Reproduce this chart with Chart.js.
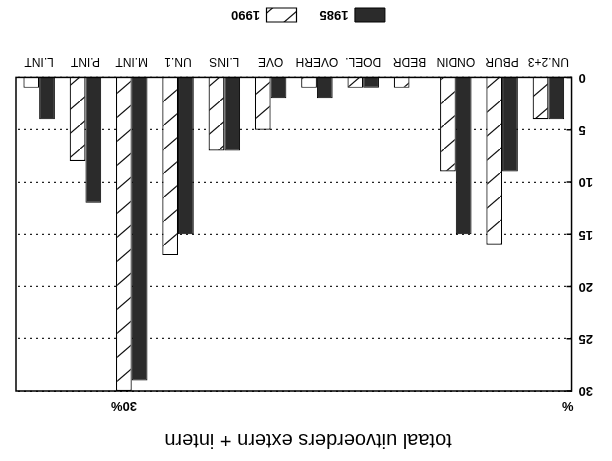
<!DOCTYPE html>
<html>
<head>
<meta charset="utf-8">
<script src="https://cdn.jsdelivr.net/npm/chart.js@4.4.1/dist/chart.umd.min.js"></script>
<style>
  html, body { margin: 0; padding: 0; background: #fff; }
  /* the scanned reference is upside down, so the whole chart is turned */
  #wrap { width: 612px; height: 461px; transform: rotate(180deg); }
</style>
</head>
<body>
<div id="wrap"><canvas id="chart" width="612" height="461"></canvas></div>
<script>
// Chart data
const categories = ['UN.2+3', 'PBUR', 'ONDIN', 'BEDR', 'DOEL.', 'OVERH', 'OVE', 'L.INS', 'UN.1', 'M.INT', 'P.INT', 'L.INT'];
const values1985 = [4, 9, 15, 0, 1, 2, 2, 7, 15, 29, 12, 4];
const values1990 = [4, 16, 9, 1, 1, 1, 5, 7, 17, 30, 8, 1];
const yTicks = [0, 5, 10, 15, 20, 25, 30];
const yMax = 30;

const FONT = '"Liberation Sans", Arial, sans-serif';

// white fill with "/" hatching
function makeHatch() {
  const c = document.createElement('canvas');
  c.width = 28;
  c.height = 24;
  const g = c.getContext('2d');
  g.fillStyle = '#fff';
  g.fillRect(0, 0, c.width, c.height);
  g.strokeStyle = '#111';
  g.lineWidth = 1.3;
  g.beginPath();
  g.moveTo(-2, c.height + 2 * c.height / c.width);
  g.lineTo(c.width + 2, -2 * c.height / c.width);
  g.stroke();
  return g.createPattern(c, 'repeat');
}

// plot frame, inner tick marks, % labels
const framePlugin = {
  id: 'frame',
  afterDatasetsDraw(chart) {
    const { ctx, chartArea: a, scales: { y } } = chart;
    ctx.save();
    ctx.strokeStyle = '#000';
    ctx.lineWidth = 1.5;
    ctx.strokeRect(a.left, a.top, a.right - a.left, a.bottom - a.top);
    ctx.beginPath();
    yTicks.forEach(v => {
      const py = y.getPixelForValue(v);
      ctx.moveTo(a.left, py);
      ctx.lineTo(a.left + 5, py);
    });
    ctx.stroke();

    ctx.fillStyle = '#000';
    ctx.font = 'bold 13px ' + FONT;
    ctx.textBaseline = 'bottom';
    ctx.textAlign = 'left';
    ctx.fillText('%', a.left - 2, a.top - 8);

    // bars that run off the scale get their value written above
    [values1985, values1990].forEach((vals, d) => {
      const meta = chart.getDatasetMeta(d);
      vals.forEach((v, i) => {
        if (v >= yMax) {
          ctx.textAlign = 'center';
          ctx.fillText(v + '%', meta.data[i].x, a.top - 8);
        }
      });
    });
    ctx.restore();
  }
};

const ctx = document.getElementById('chart').getContext('2d');

new Chart(ctx, {
  type: 'bar',
  data: {
    labels: categories,
    datasets: [{
      label: '1985',
      data: values1985,
      backgroundColor: '#2b2b2b',
      borderColor: '#000',
      borderWidth: 1
    }, {
      label: '1990',
      data: values1990,
      backgroundColor: makeHatch(),
      borderColor: '#000',
      borderWidth: 1.2
    }]
  },
  options: {
    responsive: false,
    animation: false,
    devicePixelRatio: 1,
    layout: {
      padding: { left: 12, right: 16, top: 0, bottom: 0 }
    },
    datasets: {
      bar: {
        categoryPercentage: 0.68,
        barPercentage: 1.0
      }
    },
    scales: {
      x: {
        grid: { display: false, drawTicks: false },
        border: { display: false },
        ticks: {
          color: '#000',
          padding: 9,
          maxRotation: 0,
          autoSkip: false,
          font: { family: FONT, size: 12 }
        }
      },
      y: {
        min: 0,
        max: yMax,
        afterBuildTicks: (scale) => {
          scale.ticks = yTicks.map(v => ({ value: v }));
        },
        grid: {
          color: '#222',
          lineWidth: 1.2,
          drawTicks: false
        },
        border: { display: false, dash: [2, 4] },
        ticks: {
          color: '#000',
          padding: 7,
          font: { family: FONT, size: 13, weight: 'bold' }
        }
      }
    },
    plugins: {
      title: {
        display: true,
        text: 'totaal uitvoerders extern + intern',
        color: '#000',
        font: { family: FONT, size: 20, weight: 'normal' },
        padding: { top: 9, bottom: 37 }
      },
      legend: {
        position: 'bottom',
        maxHeight: 45,
        labels: {
          color: '#000',
          boxWidth: 30,
          boxHeight: 14,
          padding: 23,
          font: { family: FONT, size: 13, weight: 'bold' }
        }
      },
      tooltip: { enabled: false }
    }
  },
  plugins: [framePlugin]
});
</script>
</body>
</html>
